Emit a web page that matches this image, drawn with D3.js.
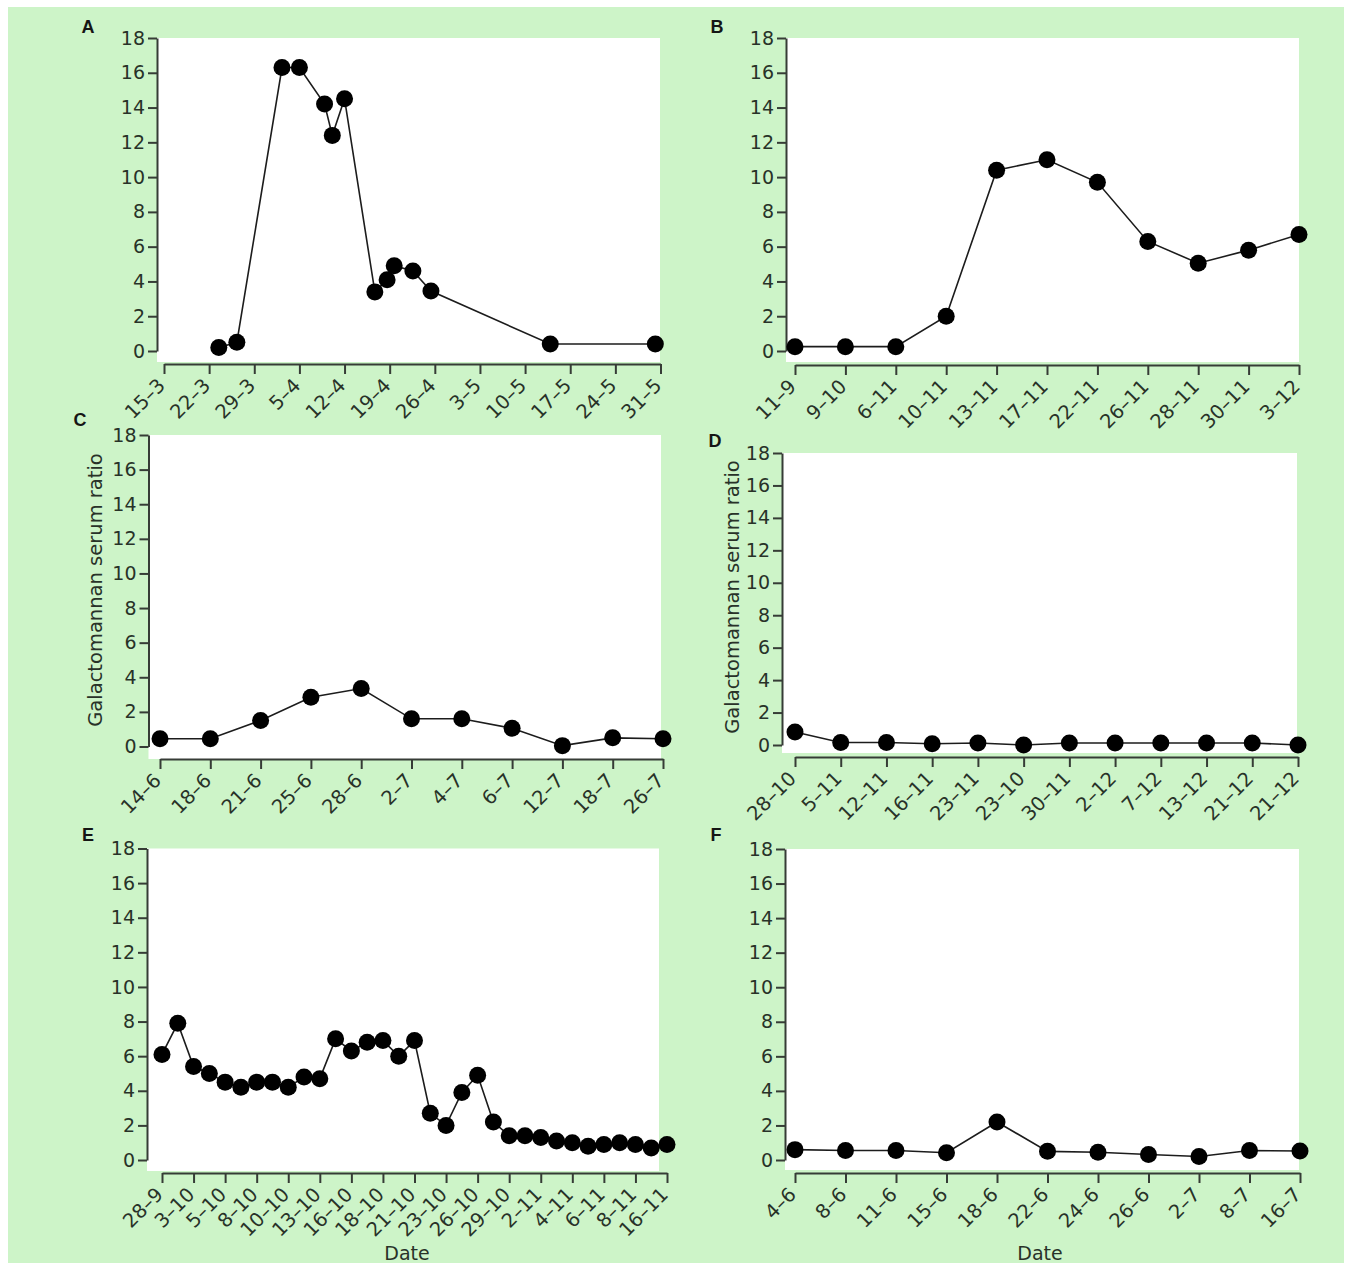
<!DOCTYPE html>
<html>
<head>
<meta charset="utf-8">
<script src="https://cdn.jsdelivr.net/npm/d3@7"></script>
<style>
  html, body { margin: 0; padding: 0; background: #ffffff; }
  svg { display: block; }
  .tick text { font-family: "DejaVu Sans", sans-serif; fill: #283228; }
</style>
</head>
<body>
<svg id="chart" width="1351" height="1270"></svg>
<script>
// ---- shared y ticks (galactomannan serum ratio) ----
const yTickValues = [0, 2, 4, 6, 8, 10, 12, 14, 16, 18];

// ---- Panel A: sampled on a calendar axis (days after 15 March) ----
const aTickLabels = ["15–3", "22–3", "29–3", "5–4", "12–4", "19–4", "26–4", "3–5", "10–5", "17–5", "24–5", "31–5"];
const aTickDays   = [0, 7, 14, 21, 28, 35, 42, 49, 56, 63, 70, 77];
const aDays       = [8.5, 11.3, 18.3, 21.0, 24.9, 26.1, 28.0, 32.7, 34.6, 35.7, 38.6, 41.4, 59.9, 76.2];
const aValues     = [0.2, 0.5, 16.3, 16.3, 14.2, 12.4, 14.5, 3.4, 4.1, 4.9, 4.6, 3.45, 0.4, 0.4];

// ---- Panel B ----
const bDates  = ["11–9", "9–10", "6–11", "10–11", "13–11", "17–11", "22–11", "26–11", "28–11", "30–11", "3–12"];
const bValues = [0.25, 0.25, 0.25, 2.0, 10.4, 11.0, 9.7, 6.3, 5.05, 5.8, 6.7];

// ---- Panel C ----
const cDates  = ["14–6", "18–6", "21–6", "25–6", "28–6", "2–7", "4–7", "6–7", "12–7", "18–7", "26–7"];
const cValues = [0.45, 0.45, 1.5, 2.85, 3.35, 1.6, 1.6, 1.05, 0.05, 0.5, 0.45];

// ---- Panel D ----
const dDates  = ["28–10", "5–11", "12–11", "16–11", "23–11", "23–10", "30–11", "2–12", "7–12", "13–12", "21–12", "21–12"];
const dValues = [0.8, 0.15, 0.15, 0.08, 0.12, 0.0, 0.12, 0.12, 0.12, 0.12, 0.12, 0.0];

// ---- Panel E: 33 samples, every second one labelled ----
const eTickLabels = ["28–9", "3–10", "5–10", "8–10", "10–10", "13–10", "16–10", "18–10", "21–10", "23–10",
                     "26–10", "29–10", "2–11", "4–11", "6–11", "8–11", "16–11"];
const eValues = [6.1, 7.9, 5.4, 5.0, 4.5, 4.2, 4.5, 4.5, 4.2, 4.8, 4.7,
                 7.0, 6.3, 6.8, 6.9, 6.0, 6.9, 2.7, 2.0, 3.9, 4.9, 2.2,
                 1.4, 1.4, 1.3, 1.1, 1.0, 0.8, 0.9, 1.0, 0.9, 0.7, 0.9];

// ---- Panel F ----
const fDates  = ["4–6", "8–6", "11–6", "15–6", "18–6", "22–6", "24–6", "26–6", "2–7", "8–7", "16–7"];
const fValues = [0.6, 0.55, 0.55, 0.42, 2.2, 0.5, 0.45, 0.32, 0.2, 0.55, 0.52];

const yLabel = "Galactomannan serum ratio";

// ---- panel series, built from the arrays above ----
const idx = arr => arr.map((_, i) => i);
const panels = [
  { letter: "A", xs: aDays, ys: aValues, domain: [0, 77], ticks: aTickDays, labels: aTickLabels,
    box: { axisX: 157, right: 660, top: 38, zero: 351, bottom: 362, xAxisY: 364, x0: 164, x1: 660.5 },
    letterPos: [88, 28], yTitle: false, xTitle: false },
  { letter: "B", xs: idx(bValues), ys: bValues, domain: [0, bValues.length - 1], ticks: idx(bDates), labels: bDates,
    box: { axisX: 786, right: 1299, top: 38, zero: 351, bottom: 362, xAxisY: 365, x0: 795, x1: 1299 },
    letterPos: [717, 28], yTitle: false, xTitle: false },
  { letter: "C", xs: idx(cValues), ys: cValues, domain: [0, cValues.length - 1], ticks: idx(cDates), labels: cDates,
    box: { axisX: 148.5, right: 661, top: 435, zero: 746.5, bottom: 759, xAxisY: 759, x0: 160, x1: 663 },
    letterPos: [80, 421], yTitle: [102, 590], xTitle: false },
  { letter: "D", xs: idx(dValues), ys: dValues, domain: [0, dValues.length - 1], ticks: idx(dDates), labels: dDates,
    box: { axisX: 782, right: 1297, top: 453, zero: 745, bottom: 753, xAxisY: 757, x0: 795, x1: 1298 },
    letterPos: [715, 442], yTitle: [739, 597], xTitle: false },
  { letter: "E", xs: idx(eValues), ys: eValues, domain: [0, eValues.length - 1],
    ticks: eTickLabels.map((_, i) => i * 2), labels: eTickLabels,
    box: { axisX: 147, right: 659, top: 848.5, zero: 1160, bottom: 1171, xAxisY: 1173, x0: 162, x1: 667 },
    letterPos: [88, 836], yTitle: false, xTitle: [407, 1254] },
  { letter: "F", xs: idx(fValues), ys: fValues, domain: [0, fValues.length - 1], ticks: idx(fDates), labels: fDates,
    box: { axisX: 785, right: 1299, top: 849, zero: 1160, bottom: 1170, xAxisY: 1173, x0: 795, x1: 1300 },
    letterPos: [716, 836], yTitle: false, xTitle: [1040, 1254] }
];

const svg = d3.select("#chart");

// pale green figure ground
svg.append("rect")
  .attr("x", 8).attr("y", 7).attr("width", 1336).attr("height", 1256)
  .attr("fill", "#cdf4c8");

const axisColor = "#363c36";

panels.forEach(p => {
  const b = p.box;
  const g = svg.append("g");

  const x = d3.scaleLinear().domain(p.domain).range([b.x0, b.x1]);
  const y = d3.scaleLinear().domain([0, 18]).range([b.zero, b.top]);

  // white plotting field
  g.append("rect")
    .attr("x", b.axisX).attr("y", b.top)
    .attr("width", b.right - b.axisX).attr("height", b.bottom - b.top)
    .attr("fill", "#ffffff");

  // y axis
  const yAxis = g.append("g")
    .attr("transform", `translate(${b.axisX},0)`)
    .call(d3.axisLeft(y).tickValues(yTickValues).tickSize(9).tickSizeOuter(0).tickPadding(3));
  yAxis.select(".domain").attr("stroke", axisColor).attr("stroke-width", 2);
  yAxis.selectAll(".tick line").attr("stroke", axisColor).attr("stroke-width", 2);
  yAxis.selectAll(".tick text").style("font-size", "19px");

  // x axis with slanted date labels
  const xAxis = g.append("g")
    .attr("transform", `translate(0,${b.xAxisY})`)
    .call(d3.axisBottom(x).tickValues(p.ticks).tickFormat((d, i) => p.labels[i])
      .tickSize(10).tickSizeOuter(0));
  xAxis.select(".domain").attr("stroke", axisColor).attr("stroke-width", 2);
  xAxis.selectAll(".tick line").attr("stroke", axisColor).attr("stroke-width", 2);
  xAxis.selectAll(".tick text")
    .style("font-size", "19.5px")
    .attr("text-anchor", "end")
    .attr("x", 0).attr("y", 0).attr("dy", "0.35em")
    .attr("transform", "translate(-3,18) rotate(-45)");

  // series line and markers
  const pts = p.xs.map((xv, i) => [xv, p.ys[i]]);
  g.append("path")
    .datum(pts)
    .attr("fill", "none")
    .attr("stroke", "#1c1c1c")
    .attr("stroke-width", 1.6)
    .attr("d", d3.line().x(d => x(d[0])).y(d => y(d[1])));

  g.selectAll("circle.pt")
    .data(pts)
    .join("circle")
    .attr("class", "pt")
    .attr("cx", d => x(d[0]))
    .attr("cy", d => y(d[1]))
    .attr("r", 8.5)
    .attr("fill", "#000000");

  // panel letter
  g.append("text")
    .attr("x", p.letterPos[0]).attr("y", p.letterPos[1])
    .attr("text-anchor", "middle").attr("dominant-baseline", "middle")
    .style("font-family", "'Liberation Sans', Arial, sans-serif")
    .style("font-weight", "bold").style("font-size", "18px")
    .attr("fill", "#151515")
    .text(p.letter);

  if (p.yTitle) {
    g.append("text")
      .attr("transform", `translate(${p.yTitle[0]},${p.yTitle[1]}) rotate(-90)`)
      .attr("text-anchor", "middle")
      .style("font-family", "'DejaVu Sans', sans-serif").style("font-size", "19.5px")
      .attr("fill", "#283228")
      .text(yLabel);
  }
  if (p.xTitle) {
    g.append("text")
      .attr("x", p.xTitle[0]).attr("y", p.xTitle[1])
      .attr("text-anchor", "middle").attr("dominant-baseline", "middle")
      .style("font-family", "'DejaVu Sans', sans-serif").style("font-size", "19px")
      .attr("fill", "#283228")
      .text("Date");
  }
});
</script>
</body>
</html>
